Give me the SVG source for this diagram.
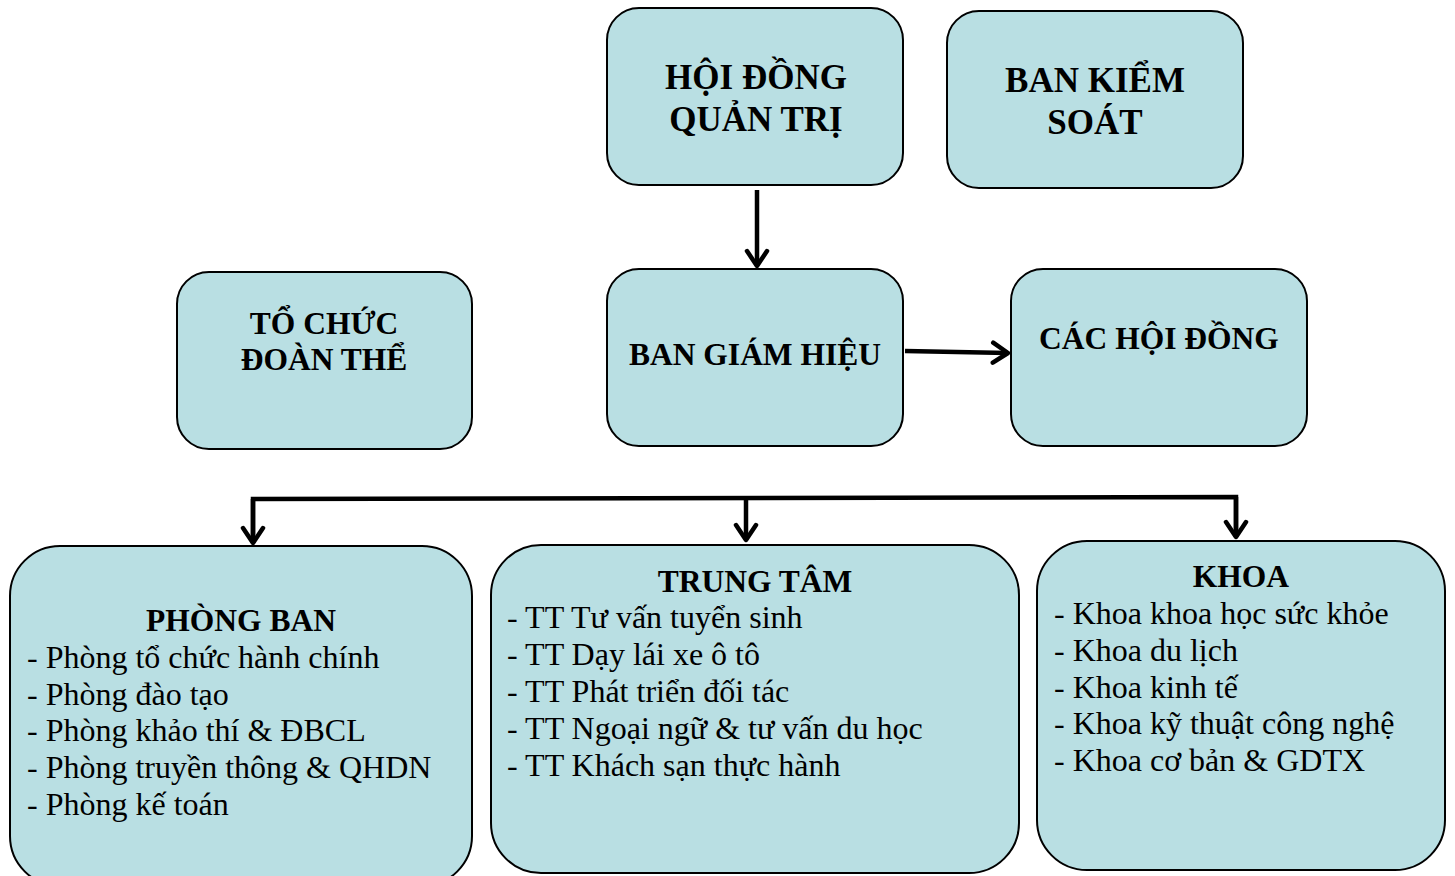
<svg xmlns="http://www.w3.org/2000/svg" width="1455" height="876" viewBox="0 0 1455 876">
<defs>
<style>
.box{fill:#b9dfe3;stroke:#000;stroke-width:2}
.t{font-weight:bold;fill:#000;text-anchor:middle}
.item{font-size:32px;fill:#000}
.ln{fill:none;stroke:#000;stroke-width:4.5}
</style>
<marker id="arr" viewBox="0 0 26 26" refX="20" refY="13" markerWidth="26" markerHeight="26" markerUnits="userSpaceOnUse" orient="auto">
<path d="M5,3 L20,13 L5,23" fill="none" stroke="#000" stroke-width="4.5" stroke-linecap="round" stroke-linejoin="round"/>
</marker>
</defs>
<rect width="1455" height="876" fill="#fff"/>
<g id="connectors">
<line class="ln" x1="757" y1="190" x2="757" y2="266" marker-end="url(#arr)"/>
<line class="ln" x1="905" y1="351" x2="1008" y2="353" marker-end="url(#arr)"/>
<polyline class="ln" points="253,543 253,499 1236,497 1236,537"/>
<line class="ln" x1="253" y1="499" x2="253" y2="543" marker-end="url(#arr)"/>
<line class="ln" x1="746" y1="499" x2="746" y2="540" marker-end="url(#arr)"/>
<line class="ln" x1="1236" y1="497" x2="1236" y2="537" marker-end="url(#arr)"/>
</g>
<g font-family="Liberation Serif, Times New Roman, serif">
<g id="hdqt">
<rect class="box" x="607" y="8" width="296" height="177" rx="32"/>
<text class="t" x="756" y="89" font-size="35">HỘI ĐỒNG</text>
<text class="t" x="756" y="131" font-size="35">QUẢN TRỊ</text>
</g>
<g id="bks">
<rect class="box" x="947" y="11" width="296" height="177" rx="32"/>
<text class="t" x="1095" y="92" font-size="35">BAN KIỂM</text>
<text class="t" x="1095" y="134" font-size="35">SOÁT</text>
</g>
<g id="tcdt">
<rect class="box" x="177" y="272" width="295" height="177" rx="32"/>
<text class="t" x="324" y="334" font-size="31.5">TỔ CHỨC</text>
<text class="t" x="324" y="370" font-size="31.5">ĐOÀN THỂ</text>
</g>
<g id="bgh">
<rect class="box" x="607" y="269" width="296" height="177" rx="32"/>
<text class="t" x="755" y="365" font-size="31.5">BAN GIÁM HIỆU</text>
</g>
<g id="chd">
<rect class="box" x="1011" y="269" width="296" height="177" rx="32"/>
<text class="t" x="1159" y="349" font-size="31.5">CÁC HỘI ĐỒNG</text>
</g>
<g id="phongban">
<rect class="box" x="10" y="546" width="462" height="340" rx="50"/>
<text class="t" x="241" y="631" font-size="31.5">PHÒNG BAN</text>
<text class="item" x="27" y="668">- Phòng tổ chức hành chính</text>
<text class="item" x="27" y="705">- Phòng đào tạo</text>
<text class="item" x="27" y="741">- Phòng khảo thí &amp; ĐBCL</text>
<text class="item" x="27" y="778">- Phòng truyền thông &amp; QHDN</text>
<text class="item" x="27" y="815">- Phòng kế toán</text>
</g>
<g id="trungtam">
<rect class="box" x="491" y="545" width="528" height="328" rx="50"/>
<text class="t" x="755" y="592" font-size="31.5">TRUNG TÂM</text>
<text class="item" x="507" y="628">- TT Tư vấn tuyển sinh</text>
<text class="item" x="507" y="665">- TT Dạy lái xe ô tô</text>
<text class="item" x="507" y="702">- TT Phát triển đối tác</text>
<text class="item" x="507" y="739">- TT Ngoại ngữ &amp; tư vấn du học</text>
<text class="item" x="507" y="776">- TT Khách sạn thực hành</text>
</g>
<g id="khoa">
<rect class="box" x="1037" y="541" width="408" height="329" rx="50"/>
<text class="t" x="1241" y="587" font-size="31.5">KHOA</text>
<text class="item" x="1054" y="624">- Khoa khoa học sức khỏe</text>
<text class="item" x="1054" y="661">- Khoa du lịch</text>
<text class="item" x="1054" y="698">- Khoa kinh tế</text>
<text class="item" x="1054" y="734">- Khoa kỹ thuật công nghệ</text>
<text class="item" x="1054" y="771">- Khoa cơ bản &amp; GDTX</text>
</g>
</g>
</svg>
